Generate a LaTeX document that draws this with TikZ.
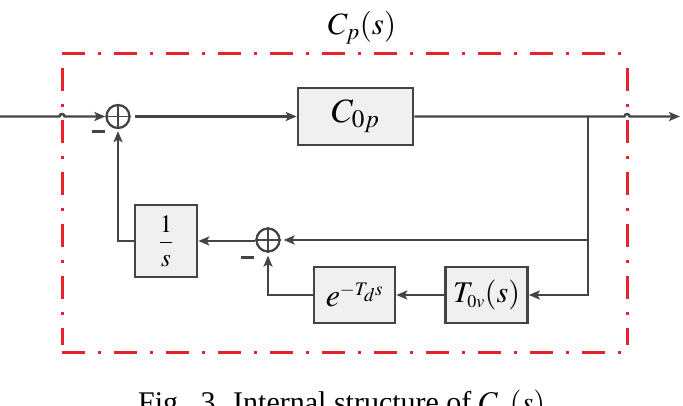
\documentclass[tikz,border=0pt]{standalone}
\usepackage{mathptmx}
\usepackage[no-math]{fontspec}
\setmainfont{Liberation Serif}
\usetikzlibrary{arrows.meta,calc}
\definecolor{ln}{HTML}{444444}
\definecolor{bx}{HTML}{F0F0F0}
\definecolor{rd}{HTML}{E8222C}
\begin{document}
\begin{tikzpicture}[x=1pt,y=-1pt,
  blk/.style={draw=ln,line width=2.6pt,fill=bx,inner sep=0pt,rectangle},
  sumnode/.style={circle,draw=ln,line width=2.3pt,minimum size=23pt,inner sep=0pt},
  conn/.style={draw=ln,line width=2.4pt,-{Stealth[length=11pt,width=9pt,inset=2.5pt]}},
  frame/.style={draw=rd,line width=3pt,dash pattern=on 23pt off 13pt on 3pt off 13pt},
  minus/.style={fill=ln,minimum width=13pt,minimum height=3pt,inner sep=0pt}]
\useasboundingbox (0,0) rectangle (683,406);
\clip (0,0) rectangle (683,406);
\fill[white] (0,0) rectangle (683,406);

% frame
\draw[frame] (62,54) -- (624,54);
\draw[frame] (62,352) -- (624,352);
\draw[frame] (62,68) -- (62,345);
\draw[frame] (627,68) -- (627,345);

% title and caption
\node (tt) at (362,28) {\fontsize{31}{31}\selectfont $C_p(s)$};
\node[anchor=base west,inner sep=0pt] (cap) at (138,412) {\fontsize{30}{30}\selectfont Fig.~~3. Internal structure of $C_p(s)$};

% nodes
\coordinate (in) at (0,116.5);
\coordinate (out) at (680,116.5);
\coordinate (j1) at (62,116.5);
\coordinate (j2) at (627,116.5);
\coordinate (b1) at (588,116.5);
\coordinate (b2) at (588,240);
\node[sumnode] (s1) at (118,116.5) {};
\draw[ln,line width=1.6pt] (s1.north) -- (s1.south) (s1.west) -- (s1.east);
\node[blk,minimum width=115pt,minimum height=57pt] (c0) at (355.5,116.5) {\fontsize{34}{34}\selectfont $C_{0p}$};
\node[blk,minimum width=62pt,minimum height=72pt] (inv) at (166,241) {\fontsize{25}{25}\selectfont $\displaystyle\frac{1}{s}$};
\node[sumnode] (s2) at (268,240) {};
\draw[ln,line width=1.6pt] (s2.north) -- (s2.south) (s2.west) -- (s2.east);
\node[blk,minimum width=81pt,minimum height=56pt] (ed) at (354.5,295) {\fontsize{32}{32}\selectfont $e^{\scriptscriptstyle -T_d s}$};
\node[blk,minimum width=82pt,minimum height=56pt] (tv) at (486.5,295) {\fontsize{30}{30}\selectfont $T_{\scriptscriptstyle 0v}(s)$};
\node[minus] (m1) at (98,132) {};
\node[minus] (m2) at (247,258) {};

% connectors
\draw[conn] (in) -- ([xshift=-2.5pt]j1) arc[start angle=180,end angle=0,radius=2.5pt] -- (s1.west);
\draw[conn,shorten <=4pt] (s1.east) -- (c0.west);
\draw[conn] (c0.east) -- ([xshift=-2.5pt]j2) arc[start angle=180,end angle=0,radius=2.5pt] -- (out);
\draw[conn] (b1) |- (tv.east);
\draw[conn,shorten >=3pt] (b2) -- (s2.east);
\draw[conn] (tv.west) -- (ed.east);
\draw[conn,shorten >=3pt] (ed.west) -| (s2.south);
\draw[conn] (s2.west |- inv.east) -- (inv.east);
\draw[conn,shorten >=2pt] (inv.west) -| (s1.south);
\end{tikzpicture}
\end{document}
